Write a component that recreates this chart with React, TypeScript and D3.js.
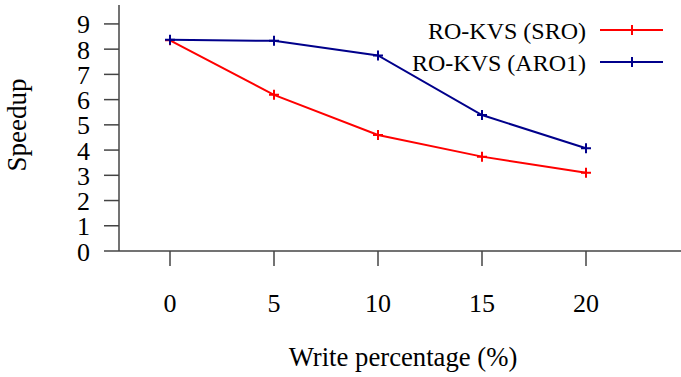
import React from 'react'
import * as d3 from 'd3'

const writePct = [0, 5, 10, 15, 20]
const sroSpeedup = [8.35, 6.19, 4.6, 3.74, 3.1]
const aro1Speedup = [8.37, 8.33, 7.75, 5.39, 4.07]
const yTicks = [0, 1, 2, 3, 4, 5, 6, 7, 8, 9]
const seriesNames = ['RO-KVS (SRO)', 'RO-KVS (ARO1)']
const seriesColors = ['#ff0000', '#00008b']

const App = () => {
    const ref = React.useRef<SVGSVGElement>(null)

    React.useEffect(() => {
        const width = 681
        const font = '"Liberation Serif", "Times New Roman", serif'

        const svg = d3.select(ref.current)
        svg.selectAll('*').remove()

        const xScale = d3.scaleLinear().domain([-2.5, 25]).range([118, 690])
        const yScale = d3.scaleLinear().domain([0, 9.75]).range([251, 5])

        const axisColor = '#444'

        // y axis
        svg.append('line')
            .attr('x1', 119).attr('x2', 119)
            .attr('y1', yScale(9.75)).attr('y2', yScale(0))
            .attr('stroke', axisColor).attr('stroke-width', 1.5)

        const yt = svg.selectAll('.ytick').data(yTicks).enter().append('g').attr('class', 'ytick')
        yt.append('line')
            .attr('x1', 104).attr('x2', 119)
            .attr('y1', (d) => yScale(d)).attr('y2', (d) => yScale(d))
            .attr('stroke', axisColor).attr('stroke-width', 1.5)
        yt.append('text')
            .attr('x', 90)
            .attr('y', (d) => yScale(d) + 9.5)
            .attr('text-anchor', 'end')
            .style('font-family', font)
            .style('font-size', '26px')
            .text((d) => d)

        // x axis
        svg.append('line')
            .attr('x1', 119).attr('x2', width)
            .attr('y1', yScale(0)).attr('y2', yScale(0))
            .attr('stroke', axisColor).attr('stroke-width', 1.5)

        const xt = svg.selectAll('.xtick').data(writePct).enter().append('g').attr('class', 'xtick')
        xt.append('line')
            .attr('x1', (d) => xScale(d)).attr('x2', (d) => xScale(d))
            .attr('y1', yScale(0)).attr('y2', yScale(0) + 15)
            .attr('stroke', axisColor).attr('stroke-width', 1.5)
        xt.append('text')
            .attr('x', (d) => xScale(d))
            .attr('y', 312)
            .attr('text-anchor', 'middle')
            .style('font-family', font)
            .style('font-size', '26px')
            .text((d) => d)

        // axis titles
        svg.append('text')
            .attr('x', 403).attr('y', 366)
            .attr('text-anchor', 'middle')
            .style('font-family', font)
            .style('font-size', '26.7px')
            .text('Write percentage (%)')

        svg.append('text')
            .attr('transform', 'translate(26,125) rotate(-90)')
            .attr('text-anchor', 'middle')
            .style('font-family', font)
            .style('font-size', '27px')
            .text('Speedup')

        const line = d3.line<number>()
            .x((d, i) => xScale(writePct[i]))
            .y((d) => yScale(d))

        const plus = (g: any, x: number, y: number, color: string) => {
            g.append('path')
                .attr('d', `M${x - 5},${y}H${x + 5}M${x},${y - 5}V${y + 5}`)
                .attr('stroke', color).attr('stroke-width', 2)
                .attr('fill', 'none')
        }

        ;[sroSpeedup, aro1Speedup].forEach((vals, si) => {
            const color = seriesColors[si]
            svg.append('path')
                .datum(vals)
                .attr('d', line)
                .attr('fill', 'none')
                .attr('stroke', color)
                .attr('stroke-width', 2)
            vals.forEach((v, i) => plus(svg, xScale(writePct[i]), yScale(v), color))

            // legend
            const ly = 30 + si * 32
            svg.append('text')
                .attr('x', 586).attr('y', ly + 9)
                .attr('text-anchor', 'end')
                .style('font-family', font)
                .style('font-size', '24px')
                .text(seriesNames[si])
            svg.append('line')
                .attr('x1', 600).attr('x2', 663)
                .attr('y1', ly).attr('y2', ly)
                .attr('stroke', color).attr('stroke-width', 2)
            plus(svg, 632, ly, color)
        })
    }, [])

    return (
        <div style={{ position: 'absolute', top: 0, left: 0, width: '681px', height: '377px', background: 'white' }}>
            <svg ref={ref} width={681} height={377} style={{ display: 'block' }}></svg>
        </div>
    )
}

export default App
